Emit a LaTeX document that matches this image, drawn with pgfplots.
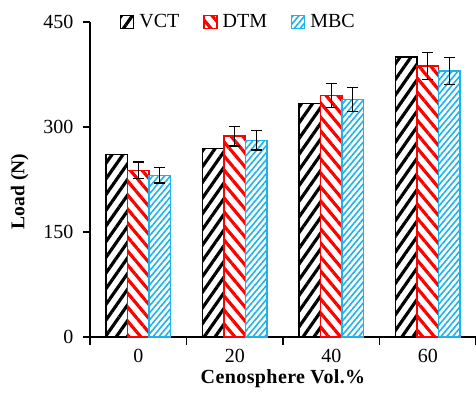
\documentclass[border=0pt]{standalone}
\usepackage{fontspec}
\setmainfont{Liberation Serif}
\usepackage{pgfplots}
\pgfplotsset{compat=1.18}
\usetikzlibrary{patterns.meta}
\definecolor{mbc}{RGB}{30,178,235}
\definecolor{dtm}{RGB}{255,0,0}
\begin{document}
\begin{tikzpicture}
\begin{axis}[
  scale only axis, width=386pt, height=315pt,
  ybar=0pt, bar width=21.5pt,
  xmin=-0.5, xmax=3.5, ymin=0, ymax=450,
  axis x line*=bottom, axis y line*=left,
  axis line style={line width=1.2pt},
  xtick={0,1,2,3}, xticklabels={0,20,40,60},
  minor xtick={-0.5,0.5,1.5,2.5,3.5},
  major x tick style={draw=none},
  minor x tick style={line width=1.2pt, black},
  minor tick length=8pt,
  ytick={0,150,300,450},
  major y tick style={line width=1.2pt, black},
  major tick length=7pt,
  tick align=outside,
  /pgf/number format/assume math mode=true,
  ticklabel style={font=\fontsize{20}{22}\selectfont},
  xticklabel style={yshift=-2pt},
  yticklabel style={xshift=-6pt},
  xlabel={\fontsize{20}{22}\selectfont\bfseries\addfontfeature{LetterSpace=2}Cenosphere Vol.\%},
  ylabel={\fontsize{19.5}{22}\selectfont\bfseries Load (N)},
  xlabel style={yshift=0pt},
  ylabel style={yshift=8pt, xshift=-12pt},
  legend columns=3,
  legend style={draw=none, fill=none, at={(0.07,1)}, anchor=west,
    font=\fontsize{20}{22}\selectfont, column sep=22pt,
    /tikz/every odd column/.style={column sep=3pt}},
  legend image code/.code={\draw[#1, line width=1.2pt] (0pt,-6.5pt) rectangle (13pt,6.5pt);},
  error bars/y dir=both, error bars/y explicit,
  error bars/error bar style={line width=1.3pt, black},
  error bars/error mark options={rotate=90, mark size=5.5pt, line width=1.3pt, black},
]
\addplot[draw=black, line width=1.2pt, pattern={Lines[angle=55, distance=9pt, line width=3.2pt]}, pattern color=black,
  error bars/draw error bar/.code 2 args={}]
  coordinates {(0,261) (1,269) (2,334) (3,400)};
\addplot[draw=dtm, line width=1.2pt, pattern={Lines[angle=-50, distance=9pt, line width=3.2pt]}, pattern color=dtm]
  coordinates {(0,238) +- (0,12) (1,287) +- (0,14) (2,345) +- (0,17) (3,387) +- (0,19)};
\addplot[draw=mbc, line width=1.2pt, pattern={Lines[angle=50, distance=4.5pt, line width=1.6pt]}, pattern color=mbc]
  coordinates {(0,231) +- (0,11) (1,281) +- (0,14) (2,339) +- (0,17) (3,380) +- (0,19)};
\legend{VCT,DTM,MBC}
\end{axis}
\pgfresetboundingbox
\path ([shift={(-90pt,-56pt)}]current axis.south west) rectangle ([shift={(0pt,22pt)}]current axis.north east);
\end{tikzpicture}
\end{document}
